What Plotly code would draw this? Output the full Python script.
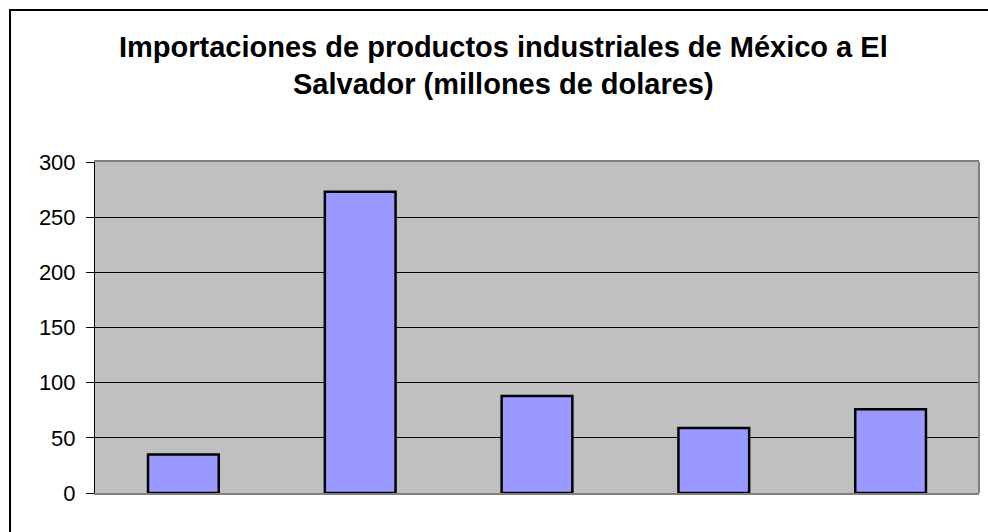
import plotly.graph_objects as go

categories = ["A", "B", "C", "D", "E"]
values = [35, 273, 88, 59, 76]
y_ticks = [0, 50, 100, 150, 200, 250, 300]
title_line1 = "Importaciones de productos industriales de México a El"
title_line2 = "Salvador (millones de dolares)"

W, H = 988, 532
L, R, T, B = 95, 9, 162, 39
pw = W - L - R
ph = H - T - B

def px_x(x):
    return (x - L) / pw

def px_y(y):
    return (H - B - y) / ph

fig = go.Figure()
fig.add_trace(go.Bar(
    x=categories, y=values,
    marker=dict(color="#9999FF", line=dict(color="black", width=2.5)),
    width=0.4,
))

font = "Liberation Sans, Arial, sans-serif"
fig.update_layout(
    width=W, height=H,
    margin=dict(l=L, r=R, t=T, b=B),
    paper_bgcolor="white",
    plot_bgcolor="#C0C0C0",
    showlegend=False,
    font=dict(family=font, color="black"),
    xaxis=dict(showticklabels=False, ticks="", showgrid=False,
               showline=True, linecolor="#808080", linewidth=2, mirror=True),
    yaxis=dict(range=[0, 300], tickvals=y_ticks, ticks="outside", ticklen=8,
               tickcolor="black", tickwidth=1,
               tickfont=dict(size=22, family=font, color="black"),
               ticklabelstandoff=6,
               showgrid=True, gridcolor="black", gridwidth=1,
               zeroline=False, showline=True, linecolor="black", linewidth=1),
    annotations=[
        dict(text="<b>%s</b>" % title_line1, xref="paper", yref="paper",
             x=px_x(503), y=px_y(47.5), xanchor="center", yanchor="middle",
             showarrow=False, font=dict(size=29, family=font, color="black")),
        dict(text="<b>%s</b>" % title_line2, xref="paper", yref="paper",
             x=px_x(503), y=px_y(84), xanchor="center", yanchor="middle",
             showarrow=False, font=dict(size=29, family=font, color="black")),
    ],
    shapes=[
        dict(type="rect", xref="paper", yref="paper",
             x0=px_x(10), x1=px_x(W + 20), y0=px_y(H + 20), y1=px_y(10),
             line=dict(color="black", width=2)),
        dict(type="line", xref="paper", yref="paper",
             x0=1, x1=1, y0=0, y1=1, line=dict(color="#808080", width=2)),
    ],
)

fig.write_html("out.html", config={"displayModeBar": False},
               post_script="document.body.style.margin='0';document.body.style.overflow='hidden';")
